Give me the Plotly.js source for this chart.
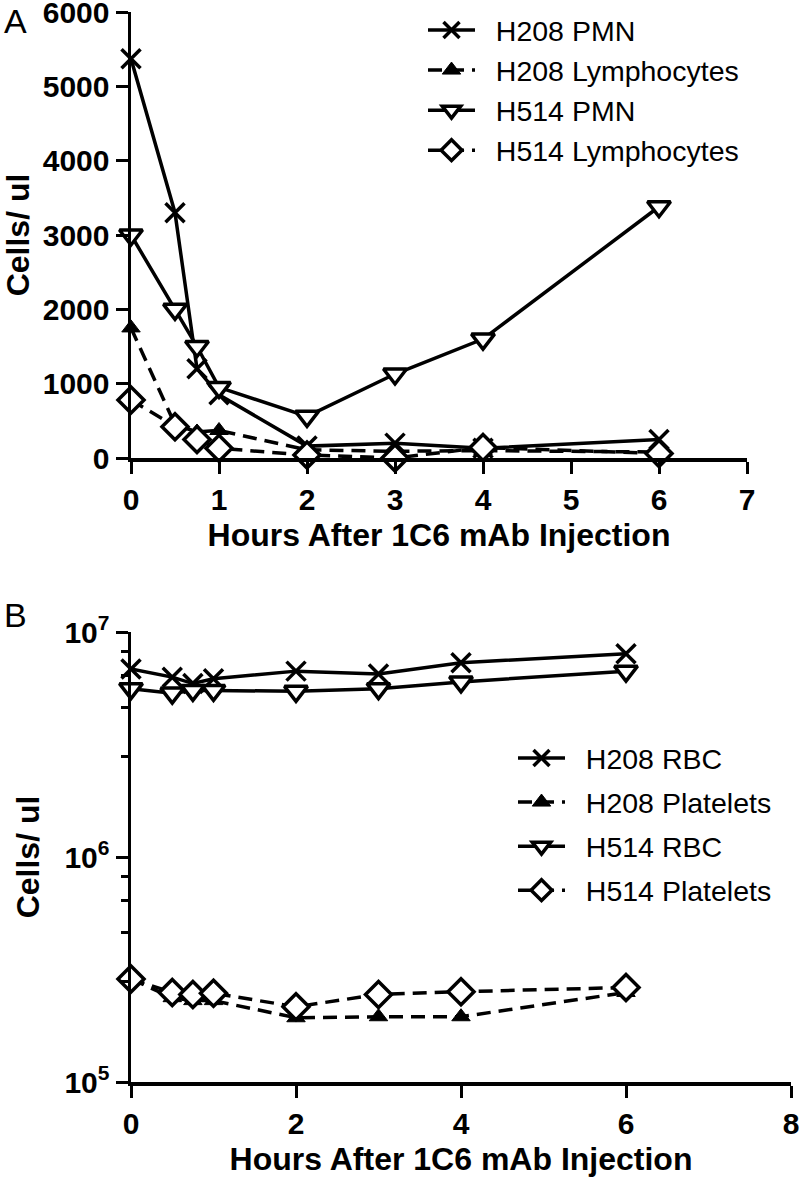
<!DOCTYPE html>
<html>
<head>
<meta charset="utf-8">
<script src="https://cdn.plot.ly/plotly-3.0.1.min.js"></script>
<style>html,body{margin:0;padding:0;background:#fff;}#chart{width:800px;height:1178px;}</style>
</head>
<body>
<div id="chart"></div>
<script>
// Panel A data (cells/ul)
const hoursA = [0, 0.5, 0.75, 1, 2, 3, 4, 6];
const h208PMN = [5370, 3300, 1200, 850, 160, 200, 130, 250];
const h208Lymph = [1750, 450, 350, 370, 110, 90, 100, 80];
const h514PMN = [3000, 2000, 1500, 950, 560, 1130, 1600, 3380];
const h514Lymph = [780, 420, 250, 130, 40, 0, 140, 60];

// Panel B data (cells/ul, log scale)
const hoursB = [0, 0.5, 0.75, 1, 2, 3, 4, 6];
const h208RBC = [6.85e6, 6.3e6, 5.9e6, 6.2e6, 6.7e6, 6.5e6, 7.3e6, 8.0e6];
const h208Plt = [2.87e5, 2.37e5, 2.3e5, 2.3e5, 1.93e5, 1.95e5, 1.95e5, 2.5e5];
const h514RBC = [5.6e6, 5.35e6, 5.5e6, 5.5e6, 5.45e6, 5.6e6, 6.0e6, 6.7e6];
const h514Plt = [2.87e5, 2.5e5, 2.45e5, 2.48e5, 2.16e5, 2.45e5, 2.52e5, 2.63e5];

const namesA = ["H208 PMN", "H208 Lymphocytes", "H514 PMN", "H514 Lymphocytes"];
const namesB = ["H208 RBC", "H208 Platelets", "H514 RBC", "H514 Platelets"];
const logTickVals = [1e5, 1e6, 1e7];
const logTickText = ["10<sup>5</sup>", "10<sup>6</sup>", "10<sup>7</sup>"];
const minorMult = [2.8, 4.6, 6.4, 8.2];
const minorVals = [];
[1e5, 1e6].forEach(d => minorMult.forEach(m => minorVals.push(m * d)));

const FONT = "Liberation Sans, Arial, sans-serif";
const DASH = "14px,8px";
const PAD = "\u00a0\u00a0";

function styles(i) {
  const s = [
    {line: {color: "#000", width: 3.5, dash: "solid"}, marker: {symbol: "x-thin-open", size: 19, color: "#000", line: {color: "#000", width: 3.5}}},
    {line: {color: "#000", width: 3.5, dash: DASH}, marker: {symbol: "triangle-up", size: 16, color: "#000", line: {color: "#000", width: 1}}},
    {line: {color: "#000", width: 3.5, dash: "solid"}, marker: {symbol: "triangle-down", size: 20, color: "#fff", line: {color: "#000", width: 3.5}}},
    {line: {color: "#000", width: 3.5, dash: DASH}, marker: {symbol: "diamond", size: 20, color: "#fff", line: {color: "#000", width: 3.5}}}
  ];
  return s[i];
}

const seriesA = [h208PMN, h208Lymph, h514PMN, h514Lymph];
const seriesB = [h208RBC, h208Plt, h514RBC, h514Plt];
const traces = [];
seriesA.forEach((ys, i) => {
  const st = styles(i);
  traces.push({x: hoursA, y: ys, name: PAD + namesA[i], type: "scatter", mode: "lines+markers",
    line: st.line, marker: st.marker, cliponaxis: false, xaxis: "x", yaxis: "y",
    legend: "legend", legendgroup: "a" + i});
});
seriesB.forEach((ys, i) => {
  const st = styles(i);
  traces.push({x: hoursB, y: ys, name: PAD + namesB[i], type: "scatter", mode: "lines+markers",
    line: st.line, marker: st.marker, cliponaxis: false, xaxis: "x2", yaxis: "y2",
    legend: "legend2", legendgroup: "b" + i});
});

const H = 1178, W = 800;
const tickFont = {family: FONT, size: 30, color: "#000", weight: "bold"};
const titleFont = {family: FONT, size: 32, color: "#000", weight: "bold"};
const axCommon = {showline: true, linecolor: "#000", linewidth: 3.5, ticks: "outside", ticklen: 12,
  tickwidth: 3, tickcolor: "#000", showgrid: false, zeroline: false, tickfont: tickFont, automargin: false,
  ticklabeloverflow: "allow"};

const layout = {
  width: W, height: H,
  margin: {l: 0, r: 0, t: 0, b: 0},
  paper_bgcolor: "#fff", plot_bgcolor: "#fff",
  showlegend: true,
  xaxis: Object.assign({}, axCommon, {domain: [131 / W, 747 / W], range: [0, 7], dtick: 1, tick0: 0,
    anchor: "y", title: {text: "Hours After 1C6 mAb Injection", font: titleFont, standoff: 10}}),
  yaxis: Object.assign({}, axCommon, {domain: [1 - 458 / H, 1 - 12 / H], range: [0, 6000], dtick: 1000, tick0: 0,
    anchor: "x", title: {text: "Cells/ ul", font: titleFont, standoff: 16}}),
  xaxis2: Object.assign({}, axCommon, {domain: [131 / W, 791 / W], range: [0, 8], dtick: 2, tick0: 0,
    anchor: "y2", title: {text: "Hours After 1C6 mAb Injection", font: titleFont, standoff: 10}}),
  yaxis2: Object.assign({}, axCommon, {domain: [1 - 1082 / H, 1 - 632 / H], type: "log", range: [5, 7],
    tickmode: "array", tickvals: logTickVals, ticktext: logTickText, anchor: "x2",
    minor: {tickmode: "array", tickvals: minorVals, ticks: "outside", ticklen: 7, tickwidth: 3, tickcolor: "#000", showgrid: false},
    title: {text: "Cells/ ul", font: titleFont, standoff: 16}}),
  legend: {x: 423 / W, y: 1 - 5 / H, xanchor: "left", yanchor: "top", bgcolor: "rgba(0,0,0,0)",
    font: {family: FONT, size: 28.5, color: "#000"}, itemwidth: 47, tracegroupgap: 0, traceorder: "grouped"},
  legend2: {x: 513 / W, y: 1 - 733 / H, xanchor: "left", yanchor: "top", bgcolor: "rgba(0,0,0,0)",
    font: {family: FONT, size: 28.5, color: "#000"}, itemwidth: 47, tracegroupgap: 4, traceorder: "grouped"},
  annotations: [
    {text: "A", x: 2 / W, y: 1 - 0 / H, xref: "paper", yref: "paper", xanchor: "left", yanchor: "top",
      showarrow: false, font: {family: FONT, size: 34, color: "#000"}},
    {text: "B", x: 2 / W, y: 1 - 594 / H, xref: "paper", yref: "paper", xanchor: "left", yanchor: "top",
      showarrow: false, font: {family: FONT, size: 34, color: "#000"}}
  ]
};

Plotly.newPlot("chart", traces, layout, {displayModeBar: false, staticPlot: true});
</script>
</body>
</html>
